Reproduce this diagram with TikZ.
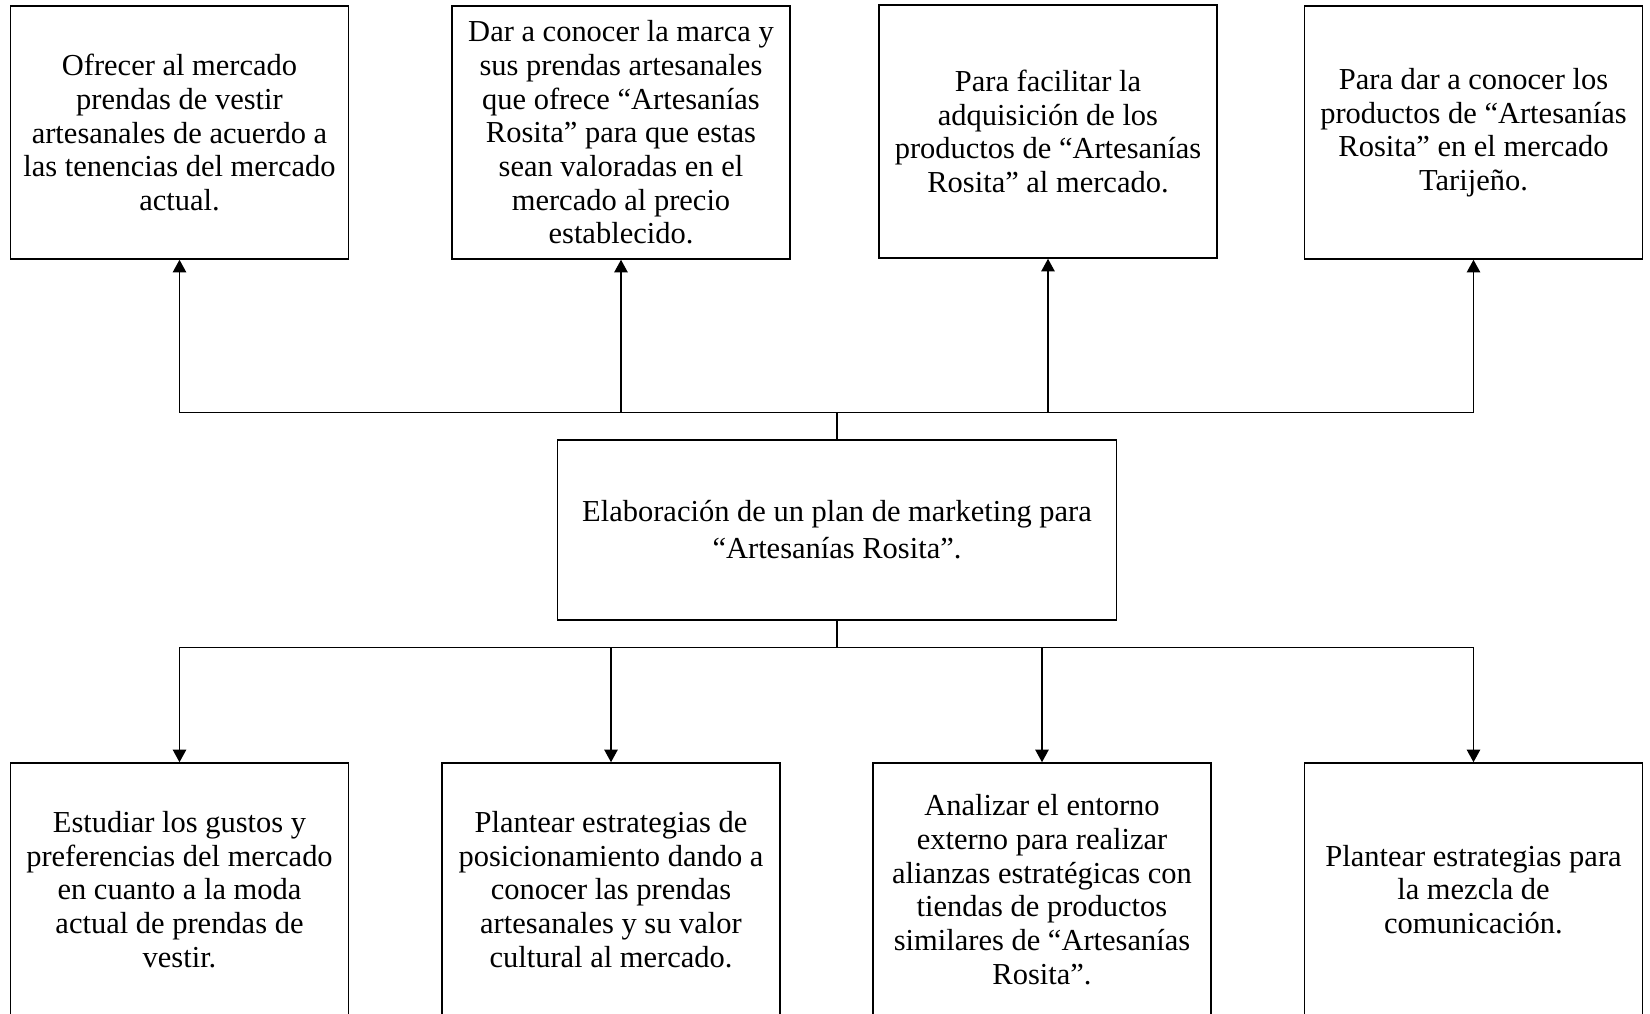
\documentclass[tikz,border=0pt]{standalone}
\usepackage{fontspec}
\setmainfont{Liberation Serif}
\usetikzlibrary{arrows.meta}

\begin{document}
\begin{tikzpicture}[x=0.41pt,y=-0.41pt,
  every node/.style={font=\fontsize{12.5}{13.8}\selectfont,align=center},
  box/.style={draw,line width=0.65pt,minimum width=138.6pt,minimum height=103.7pt,inner sep=0pt},
  elbow/.style={to path={-| (\tikztotarget)}}]
  \useasboundingbox (0,0) rectangle (1650,1014);

  % objetivos especificos (arriba)
  \node[box] (1) at (179.5,132.5) {Ofrecer al mercado\\prendas de vestir\\artesanales de acuerdo a\\las tenencias del mercado\\actual.};
  \node[box] (2) at (621,132.5) {Dar a conocer la marca y\\sus prendas artesanales\\que ofrece “Artesanías\\Rosita” para que estas\\sean valoradas en el\\mercado al precio\\establecido.};
  \node[box] (3) at (1048,131.5) {Para facilitar la\\adquisición de los\\productos de “Artesanías\\Rosita” al mercado.};
  \node[box] (4) at (1473.5,132.5) {Para dar a conocer los\\productos de “Artesanías\\Rosita” en el mercado\\Tarijeño.};

  % objetivo general
  \node[draw,line width=0.65pt,minimum width=229.3pt,minimum height=73.8pt,inner sep=0pt] (0) at (837,530) {Elaboración de un plan de marketing para\\[1.4pt]“Artesanías Rosita”.};

  % acciones (abajo)
  \node[box] (5) at (179.5,889.5) {Estudiar los gustos y\\preferencias del mercado\\en cuanto a la moda\\actual de prendas de\\vestir.};
  \node[box] (6) at (611,889.5) {Plantear estrategias de\\posicionamiento dando a\\conocer las prendas\\artesanales y su valor\\cultural al mercado.};
  \node[box] (7) at (1042,889.5) {Analizar el entorno\\externo para realizar\\alianzas estratégicas con\\tiendas de productos\\similares de “Artesanías\\Rosita”.};
  \node[box] (8) at (1473.5,889.5) {Plantear estrategias para\\la mezcla de\\comunicación.};

  \coordinate (up) at (837,412.7);
  \coordinate (down) at (837,647.3);

  \path[line width=0.65pt]
  (0) edge (up)
  (0) edge (down)
  [-{Triangle[width=5.5pt,length=5.2pt]}]
  (up) edge [elbow] (1)
  (up) edge [elbow] (2)
  (up) edge [elbow] (3)
  (up) edge [elbow] (4)
  (down) edge [elbow] (5)
  (down) edge [elbow] (6)
  (down) edge [elbow] (7)
  (down) edge [elbow] (8);
\end{tikzpicture}
\end{document}
